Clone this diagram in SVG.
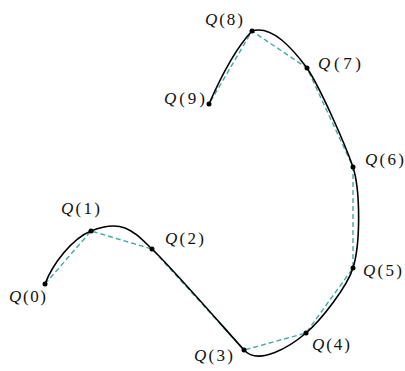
<svg xmlns="http://www.w3.org/2000/svg" width="405" height="371" viewBox="0 0 405 371">
<style>
.lbl{font-family:"Liberation Serif","Times New Roman",serif;font-size:17px;fill:#111}
.q{font-style:italic}
.poly{fill:none;stroke:#45a9a3;stroke-width:1.4;stroke-dasharray:5,3}
.curve{fill:none;stroke:#000;stroke-width:1.6;stroke-linejoin:round}
.dot{fill:#000}
</style>
<rect width="405" height="371" fill="#fff"/>
<g id="connectors">
<polyline class="poly" points="45,284 91,231 152,249 244,350 306,333 353,268 353,167 307,68 252,31 209,104"/>
<path class="curve" d="M45,284 C52.9,263.5 72.4,238.4 91,231 C123.6,218.1 134,231.8 152,249 C173,269 223.9,327.8 244,350 C258.7,366.3 290.8,346 306,333 C321.2,320 347,287 353,268 C360.5,244.3 360.5,190.75 353,167 C344.75,143.5 320.75,88.75 307,68 C292,48 272,25 252,31 C235.5,48.75 219,81 209,104"/>
</g>
<g id="Q0"><circle class="dot" cx="45" cy="284" r="2.5"/><text class="lbl" x="9" y="302" textLength="37" lengthAdjust="spacing"><tspan class="q">Q</tspan>(0)</text></g>
<g id="Q1"><circle class="dot" cx="91" cy="231" r="2.5"/><text class="lbl" x="61" y="214" textLength="39" lengthAdjust="spacing"><tspan class="q">Q</tspan>(1)</text></g>
<g id="Q2"><circle class="dot" cx="152" cy="249" r="2.5"/><text class="lbl" x="165" y="244" textLength="39" lengthAdjust="spacing"><tspan class="q">Q</tspan>(2)</text></g>
<g id="Q3"><circle class="dot" cx="244" cy="350" r="2.5"/><text class="lbl" x="194" y="361" textLength="39" lengthAdjust="spacing"><tspan class="q">Q</tspan>(3)</text></g>
<g id="Q4"><circle class="dot" cx="306" cy="333" r="2.5"/><text class="lbl" x="312" y="350" textLength="38" lengthAdjust="spacing"><tspan class="q">Q</tspan>(4)</text></g>
<g id="Q5"><circle class="dot" cx="353" cy="268" r="2.5"/><text class="lbl" x="363" y="276" textLength="39" lengthAdjust="spacing"><tspan class="q">Q</tspan>(5)</text></g>
<g id="Q6"><circle class="dot" cx="353" cy="167" r="2.5"/><text class="lbl" x="365" y="165" textLength="39" lengthAdjust="spacing"><tspan class="q">Q</tspan>(6)</text></g>
<g id="Q7"><circle class="dot" cx="307" cy="68" r="2.5"/><text class="lbl" x="318" y="69" textLength="43" lengthAdjust="spacing"><tspan class="q">Q</tspan>(7)</text></g>
<g id="Q8"><circle class="dot" cx="252" cy="31" r="2.5"/><text class="lbl" x="205" y="25" textLength="38" lengthAdjust="spacing"><tspan class="q">Q</tspan>(8)</text></g>
<g id="Q9"><circle class="dot" cx="209" cy="104" r="2.5"/><text class="lbl" x="164" y="104" textLength="41" lengthAdjust="spacing"><tspan class="q">Q</tspan>(9)</text></g>
</svg>
